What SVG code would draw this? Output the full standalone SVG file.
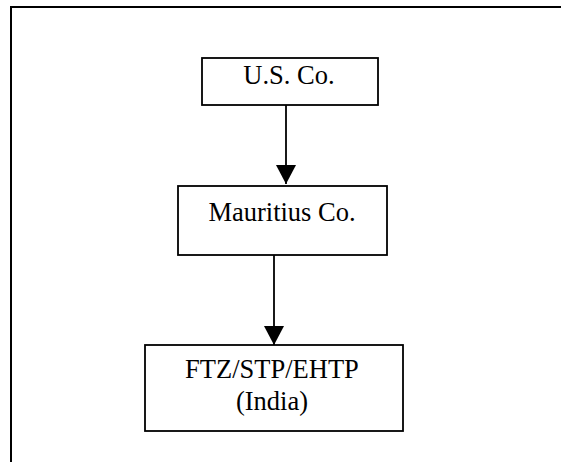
<svg xmlns="http://www.w3.org/2000/svg" width="561" height="462" viewBox="0 0 561 462">
<style>
.box{fill:#fff;stroke:#000;stroke-width:1.8}
.t{font-family:"Liberation Serif","Times New Roman",serif;font-size:26.5px;fill:#000;text-anchor:middle}
.c{stroke:#000;stroke-width:1.8;fill:none}
</style>
<defs>
<marker id="ah" markerUnits="userSpaceOnUse" markerWidth="20" markerHeight="20" refX="19" refY="10" orient="auto">
<path d="M0,0 L19,10 L0,20 Z" fill="#000"/>
</marker>
</defs>
<rect width="561" height="462" fill="#fff"/>
<path d="M11,462 V7 H561" fill="none" stroke="#000" stroke-width="2"/>
<g id="connectors">
<line class="c" x1="286" y1="105" x2="286" y2="184" marker-end="url(#ah)"/>
<line class="c" x1="274" y1="255" x2="274" y2="345" marker-end="url(#ah)"/>
</g>
<g id="us">
<rect class="box" x="202" y="58" width="176" height="47"/>
<text class="t" x="289" y="84">U.S. Co.</text>
</g>
<g id="mauritius">
<rect class="box" x="178" y="186" width="209" height="69"/>
<text class="t" x="282" y="221">Mauritius Co.</text>
</g>
<g id="ftz">
<rect class="box" x="145" y="345" width="258" height="86"/>
<text class="t" x="272" y="378">FTZ/STP/EHTP</text>
<text class="t" x="272" y="410">(India)</text>
</g>
</svg>
